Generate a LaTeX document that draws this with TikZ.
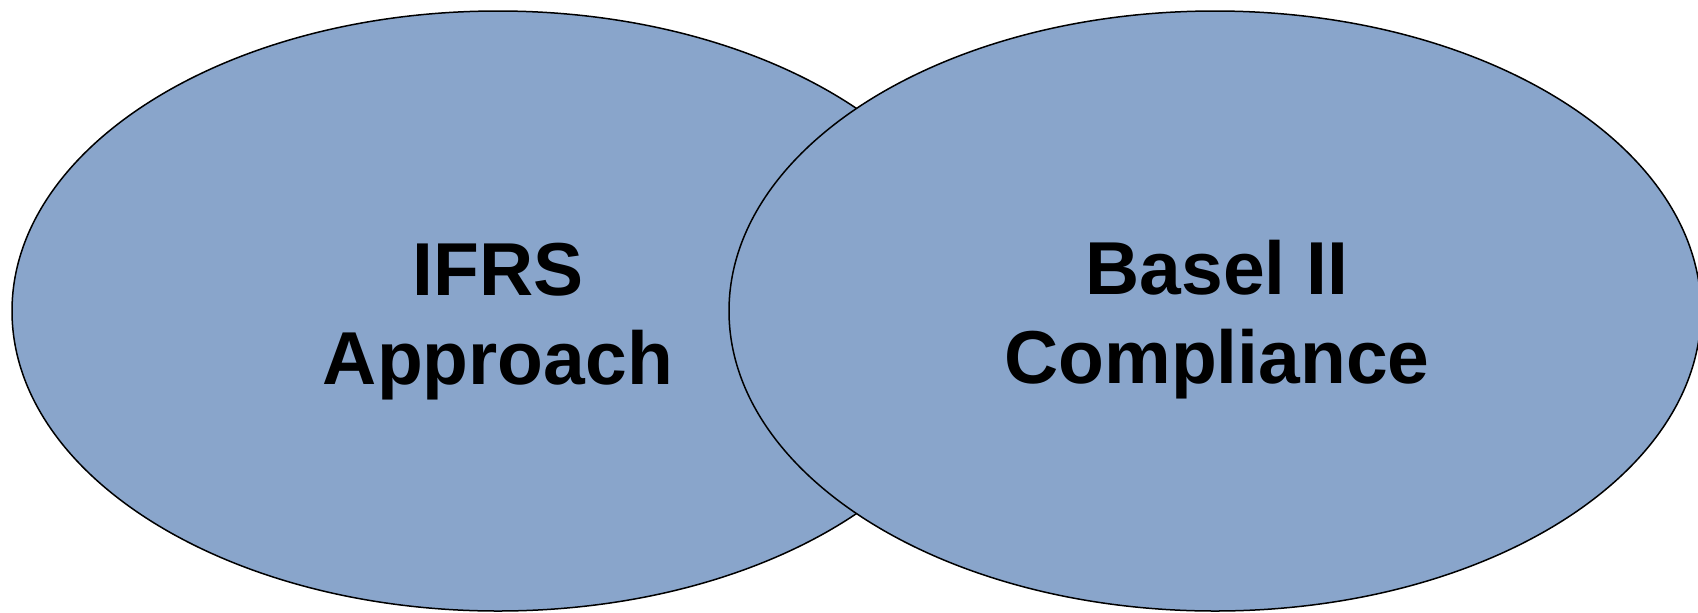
\documentclass[tikz,border=0pt]{standalone}
\usepackage{fontspec}
\setmainfont{Liberation Sans}
\usetikzlibrary{shapes.geometric}

\definecolor{vennblue}{RGB}{137,165,203}
\tikzset{
	venn/.style={ellipse, draw=black, line width=0.75pt, fill=vennblue, inner sep=0pt,
		minimum width=486pt, minimum height=300pt},
	vennlabel/.style={align=center, font=\bfseries\fontsize{37.5}{44.5}\selectfont, inner sep=0pt}
}

\begin{document}
\begin{tikzpicture}[x=0.5pt,y=-0.5pt]
	\useasboundingbox (0,0) rectangle (1698,612);
	% the two sets, right one on top
	\node[venn] (ifrs) at (498,311) {};
	\node[venn] (basel) at (1215,311) {};
	
	\node[vennlabel, yshift=-5.5pt] (ifrstext) at (ifrs.center) {IFRS\\Approach};
	\node[vennlabel, yshift=-4.5pt] (baseltext) at (1217,311) {Basel II\\Compliance};
\end{tikzpicture}
\end{document}
